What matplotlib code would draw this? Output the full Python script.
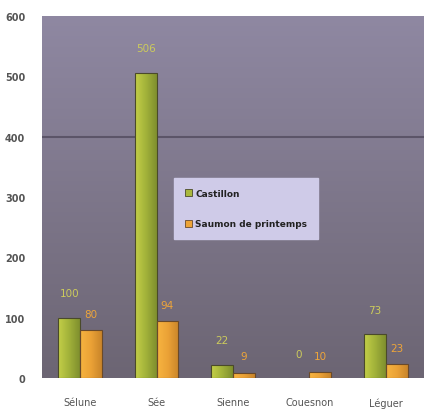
import numpy as np
import matplotlib.pyplot as plt
from matplotlib.colors import LinearSegmentedColormap
from matplotlib.patches import Patch

# rivers and counts
rivers = ["Sélune", "Sée", "Sienne", "Couesnon", "Léguer"]
castillon = [100, 506, 22, 0, 73]
saumon = [80, 94, 9, 10, 23]

fig = plt.figure(figsize=(4.24, 4.10), dpi=100)
ax = fig.add_axes([0.099, 0.0756, 0.901, 0.883])

# purple gradient background
bg = LinearSegmentedColormap.from_list("bg", ["#6c6573", "#8f88a2"])
grad = np.linspace(0, 1, 256).reshape(-1, 1)
ax.imshow(grad, cmap=bg, origin="lower", aspect="auto",
          extent=[-0.5, 4.5, 0, 600], zorder=0)

x = np.arange(len(rivers))
w = 0.285
green = ax.bar(x - w / 2, castillon, w, color="none", edgecolor="#4a4a2a",
               linewidth=0.8, zorder=3)
orange = ax.bar(x + w / 2, saumon, w, color="none", edgecolor="#6a4a2a",
                linewidth=0.8, zorder=3)

# horizontal shading inside each bar
hgrad = np.linspace(0, 1, 64).reshape(1, -1)
cm_g = LinearSegmentedColormap.from_list("g", ["#c4cf48", "#a2b23a", "#7f8f2e"])
cm_o = LinearSegmentedColormap.from_list("o", ["#f7b440", "#eba236", "#c9852a"])
for bars, cm in ((green, cm_g), (orange, cm_o)):
    for b in bars:
        if b.get_height() <= 0:
            continue
        im = ax.imshow(hgrad, cmap=cm, aspect="auto", zorder=2,
                       extent=[b.get_x(), b.get_x() + b.get_width(), 0, b.get_height()])
        im.set_clip_path(b)

ax.axhline(400, color="#5b5468", linewidth=1.5, zorder=1)

# value labels above the bars
for xi, v in zip(x, castillon):
    ax.annotate(str(v), (xi - w / 2, v), xytext=(0, 14), textcoords="offset points",
                ha="center", va="bottom", fontsize=7.5, color="#cccb5c")
for xi, v in zip(x, saumon):
    ax.annotate(str(v), (xi + w / 2, v), xytext=(0, 8), textcoords="offset points",
                ha="center", va="bottom", fontsize=7.5, color="#eea53a")

ax.set_xlim(-0.5, 4.5)
ax.set_ylim(0, 600)
ax.set_yticks(range(0, 601, 100))
ax.set_xticks(x)
ax.set_xticklabels(rivers)
ax.tick_params(axis="both", length=0, labelsize=7, labelcolor="#555555")
ax.tick_params(axis="x", pad=14)
ax.tick_params(axis="y", pad=12)
for lab in ax.get_yticklabels():
    lab.set_fontweight("bold")
for s in ax.spines.values():
    s.set_visible(False)

handles = [Patch(facecolor="#a9b83c", edgecolor="#4a4a2a", linewidth=0.6),
           Patch(facecolor="#eda437", edgecolor="#6a4a2a", linewidth=0.6)]
leg = ax.legend(handles, ["Castillon", "Saumon de printemps"], loc="upper left",
                bbox_to_anchor=(0.335, 0.565), fontsize=6.5,
                frameon=True, fancybox=False, handlelength=0.7, handleheight=0.9,
                borderpad=1.2, labelspacing=2.4, handletextpad=0.4)
leg.get_frame().set_facecolor("#cfcbe8")
leg.get_frame().set_edgecolor("#cfcbe8")
leg.get_frame().set_alpha(1)
for t in leg.get_texts():
    t.set_fontweight("bold")
    t.set_color("#222222")

fig.savefig("out.png", dpi=100)
